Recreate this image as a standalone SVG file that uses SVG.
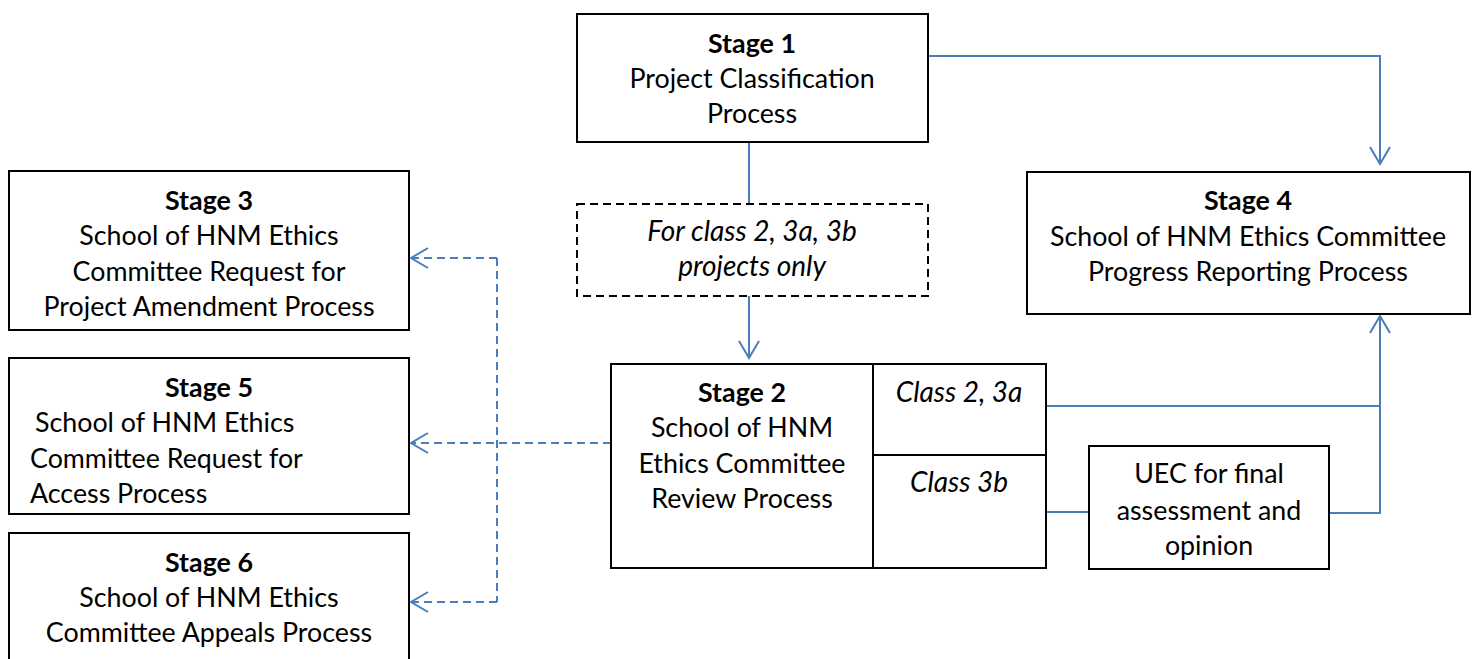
<svg xmlns="http://www.w3.org/2000/svg" width="1475" height="659" viewBox="0 0 1475 659">
<style>
.box{fill:#fff;stroke:#000;stroke-width:2}
.dbox{fill:#fff;stroke:#000;stroke-width:2;stroke-dasharray:8 5}
.t{font-family:Lato,"Liberation Sans",sans-serif;font-size:26.8px;fill:#000;text-anchor:middle}
.b{font-weight:bold}
.i{font-style:italic;font-size:28px}
.s{text-anchor:start}
.c{fill:none;stroke:#4a7ebb;stroke-width:2}
.d{stroke-dasharray:8 5}
</style>
<defs>
<marker id="ah" markerUnits="userSpaceOnUse" markerWidth="24" markerHeight="26" viewBox="-20 -13 24 26" refX="0" refY="0" orient="auto" overflow="visible">
<path d="M-17,-10 L0,0 L-17,10" fill="none" stroke="#4a7ebb" stroke-width="2"/>
</marker>
</defs>
<g id="connectors">
<path class="c" d="M928,56 H1380 V164" marker-end="url(#ah)"/>
<path class="c" d="M749,142 V204"/>
<path class="c" d="M749,296 V358" marker-end="url(#ah)"/>
<path class="c" d="M1046,406 H1380"/>
<path class="c" d="M1046,512 H1089"/>
<path class="c" d="M1329,513 H1380 V316" marker-end="url(#ah)"/>
<path class="c d" d="M611,443 H411" marker-end="url(#ah)"/>
<path class="c d" d="M497,258 V602"/>
<path class="c d" d="M497,258 H411" marker-end="url(#ah)"/>
<path class="c d" d="M497,602 H411" marker-end="url(#ah)"/>
</g>
<g id="stage1">
<rect class="box" x="577" y="14" width="351" height="128"/>
<text class="t b" x="752" y="53">Stage 1</text>
<text class="t" x="752" y="88">Project Classification</text>
<text class="t" x="752" y="123">Process</text>
</g>
<g id="filter">
<rect class="dbox" x="577" y="204" width="351" height="92"/>
<text class="t i" x="752" y="241">For class 2, 3a, 3b</text>
<text class="t i" x="752" y="276">projects only</text>
</g>
<g id="stage4">
<rect class="box" x="1027" y="172" width="443" height="142"/>
<text class="t b" x="1248" y="210">Stage 4</text>
<text class="t" x="1248" y="246">School of HNM Ethics Committee</text>
<text class="t" x="1248" y="281">Progress Reporting Process</text>
</g>
<g id="stage2">
<rect class="box" x="611" y="364" width="435" height="204"/>
<line x1="873" y1="364" x2="873" y2="568" stroke="#000" stroke-width="2"/>
<line x1="873" y1="455" x2="1046" y2="455" stroke="#000" stroke-width="2"/>
<text class="t b" x="742" y="402">Stage 2</text>
<text class="t" x="742" y="437">School of HNM</text>
<text class="t" x="742" y="473">Ethics Committee</text>
<text class="t" x="742" y="508">Review Process</text>
<text class="t i" x="959" y="402">Class 2, 3a</text>
<text class="t i" x="959" y="492">Class 3b</text>
</g>
<g id="uec">
<rect class="box" x="1089" y="446" width="240" height="123"/>
<text class="t" x="1209" y="483">UEC for final</text>
<text class="t" x="1209" y="520">assessment and</text>
<text class="t" x="1209" y="555">opinion</text>
</g>
<g id="stage3">
<rect class="box" x="9" y="171" width="400" height="159"/>
<text class="t b" x="209" y="210">Stage 3</text>
<text class="t" x="209" y="245">School of HNM Ethics</text>
<text class="t" x="209" y="281">Committee Request for</text>
<text class="t" x="209" y="316">Project Amendment Process</text>
</g>
<g id="stage5">
<rect class="box" x="9" y="358" width="400" height="156"/>
<text class="t b" x="209" y="397">Stage 5</text>
<text class="t s" x="35" y="432">School of HNM Ethics</text>
<text class="t s" x="30" y="468">Committee Request for</text>
<text class="t s" x="30" y="503">Access Process</text>
</g>
<g id="stage6">
<rect class="box" x="9" y="533" width="400" height="140"/>
<text class="t b" x="209" y="572">Stage 6</text>
<text class="t" x="209" y="607">School of HNM Ethics</text>
<text class="t" x="209" y="642">Committee Appeals Process</text>
</g>
</svg>
